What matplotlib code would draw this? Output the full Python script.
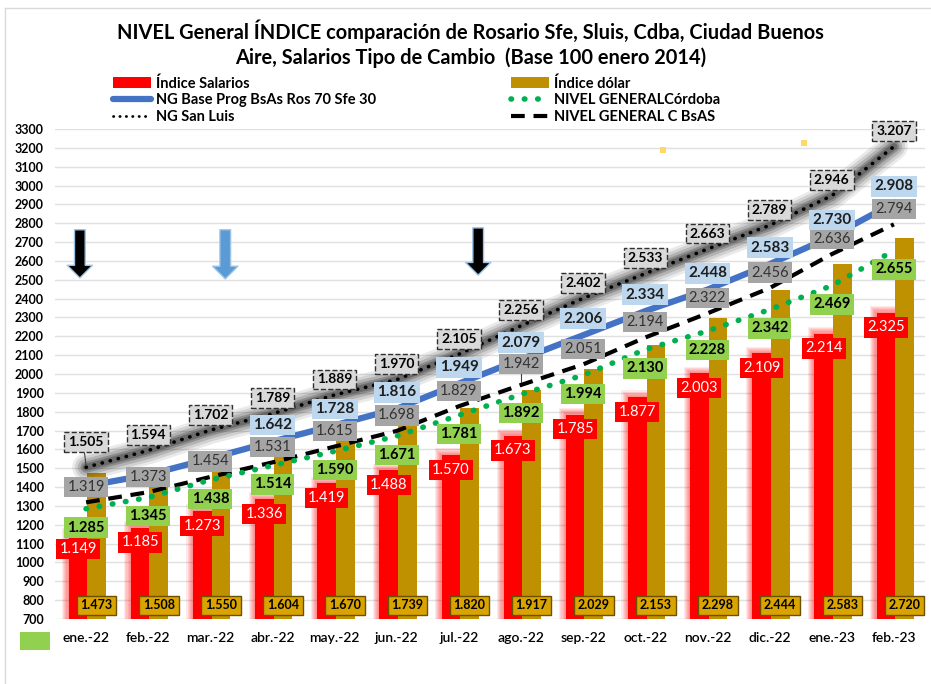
import numpy as np
import matplotlib.pyplot as plt
from matplotlib.patches import Rectangle, FancyArrowPatch
from matplotlib.lines import Line2D

plt.rcParams['font.family'] = ['Lato', 'DejaVu Sans']

# data
meses = ['ene.-22', 'feb.-22', 'mar.-22', 'abr.-22', 'may.-22', 'jun.-22', 'jul.-22',
         'ago.-22', 'sep.-22', 'oct.-22', 'nov.-22', 'dic.-22', 'ene.-23', 'feb.-23']
salarios = [1149, 1185, 1273, 1336, 1419, 1488, 1570, 1673, 1785, 1877, 2003, 2109, 2214, 2325]
dolar = [1473, 1508, 1550, 1604, 1670, 1739, 1820, 1917, 2029, 2153, 2298, 2444, 2583, 2720]
ng_base = [1405, 1465, 1552, 1642, 1728, 1816, 1949, 2079, 2206, 2334, 2448, 2583, 2730, 2908]
san_luis = [1505, 1594, 1702, 1789, 1889, 1970, 2105, 2256, 2402, 2533, 2663, 2789, 2946, 3207]
cordoba = [1285, 1345, 1438, 1514, 1590, 1671, 1781, 1892, 1994, 2130, 2228, 2342, 2469, 2655]
c_bsas = [1319, 1373, 1454, 1531, 1615, 1698, 1829, 1942, 2051, 2194, 2322, 2456, 2636, 2794]
# which labels of the base prog line are shown (first three hidden behind others)
ng_base_shown = [False, False, False] + [True] * 11
# arrows: (category position, top, tip, colour)
flechas = [(-0.1, 2780, 2495, 'black'), (2.24, 2780, 2490, '#5B9BD5'), (6.31, 2790, 2510, 'black')]
# stray yellow marks
marcas_x = [9.29, 11.55]
marcas_y = [3188, 3226]

x = np.arange(len(meses))
fmt = lambda v: f"{v / 1000:.3f}"

fig = plt.figure(figsize=(9.31, 6.84), dpi=100)
ax = fig.add_axes([55 / 931, 65 / 684, 870 / 931, 490 / 684])
ax.set_xlim(-0.5, 13.5)
ax.set_ylim(700, 3300)
for s in ax.spines.values():
    s.set_visible(False)
ax.set_yticks(np.arange(700, 3301, 100))
ax.yaxis.grid(True, color='#E0E0E0', lw=1, zorder=0)
ax.set_axisbelow(True)
ax.tick_params(axis='y', length=0, pad=8, labelsize=9)
ax.tick_params(axis='x', length=0, pad=9, labelsize=10)
ax.set_xticks(x)
ax.set_xticklabels(meses)
for t in ax.get_yticklabels():
    t.set_fontweight('bold')
for t in ax.get_xticklabels():
    t.set_fontweight('semibold')

bw = 0.3
xr = x - bw / 2 + 0.02
xg = x + bw / 2 + 0.02

# glow around the red bars
for k in range(1, 7):
    ax.bar(xr, np.array(salarios) + k * 6, width=bw + k * 0.035, color='#FF0000',
           alpha=0.09, lw=0, zorder=1)
ax.bar(xr, salarios, width=bw, color='#FF0000', lw=0, zorder=2)
ax.bar(xg, dolar, width=bw, color='#BF9000', lw=0, zorder=2)

# San Luis: grey glow + dotted black
for lw, a in [(20, 0.1), (16, 0.14), (12, 0.2), (8, 0.3), (5, 0.4)]:
    ax.plot(x, san_luis, color='#3A3A3A', lw=lw, alpha=a, solid_capstyle='round', zorder=3)
ax.plot(x, san_luis, color='black', lw=2.6, ls=(0, (0.1, 2.2)), dash_capstyle='round', zorder=4)
ax.plot(x, ng_base, color='#4472C4', lw=4.5, zorder=4)
ax.plot(x, c_bsas, color='black', lw=3, ls=(0, (3.3, 2.1)), zorder=4)
ax.plot(x, cordoba, color='#00B050', lw=4, ls=(0, (0.1, 2.3)), dash_capstyle='round', zorder=4)

ax.scatter(marcas_x, marcas_y, marker='s', s=14, color='#FFD966', lw=0, zorder=3)


def etiqueta(xx, yy, s, fc, tc, fw='bold', fs=10, ec='none', ls='-', pad=0.22):
    ax.text(xx, yy, s, ha='center', va='center', color=tc, fontsize=fs, fontweight=fw,
            bbox=dict(boxstyle=f'square,pad={pad}', fc=fc, ec=ec, ls=ls, lw=1), zorder=10)


for i in x:
    etiqueta(xr[i], salarios[i] - 78, fmt(salarios[i]), '#FF0000', 'white', fw='normal', fs=10.5)
    etiqueta(xg[i], 772, fmt(dolar[i]), '#D9A400', 'black', fs=9, ec='#6B5000', pad=0.3)
    etiqueta(i, cordoba[i] - 100, fmt(cordoba[i]), '#92D050', 'black', fs=10.5)
    dy = 112 if i == 7 else 82
    etiqueta(i, c_bsas[i] + dy, fmt(c_bsas[i]), '#A5A5A5', '#333333', fw='normal', fs=10.5)
    if i == 7:
        ax.plot([i, i], [c_bsas[i] + 15, c_bsas[i] + 80], color='#404040', lw=0.8, zorder=5)
    if ng_base_shown[i]:
        etiqueta(i, ng_base[i] + 87, fmt(ng_base[i]), '#BDD7EE', '#1F1F1F', fs=11)
    dy = 135 if i == 0 else 82
    etiqueta(i, san_luis[i] + dy, fmt(san_luis[i]), '#D9D9D9', 'black', fs=10, ec='#303030', ls='--', pad=0.28)
    if i == 0:
        ax.plot([i - 0.03, i], [san_luis[i] + 88, san_luis[i] + 10], color='#404040', lw=0.8, zorder=5)

for fx, top, tip, col in flechas:
    arr = FancyArrowPatch((fx, top), (fx, tip), arrowstyle='simple,head_length=1.3,head_width=2.6,tail_width=1.1',
                          mutation_scale=7, fc=col, ec='#9DC3E6', lw=1, zorder=6)
    ax.add_patch(arr)

# title
fig.text(0.5055, 1 - 31 / 684, 'NIVEL General ÍNDICE comparación de Rosario Sfe, Sluis, Cdba, Ciudad Buenos',
         ha='center', va='center', fontsize=14.4, fontweight='bold')
fig.text(0.5055, 1 - 58 / 684, 'Aire, Salarios Tipo de Cambio  (Base 100 enero 2014)',
         ha='center', va='center', fontsize=14.4, fontweight='bold')

# legend, two columns
h_izq = [Rectangle((0, 0), 1, 1, fc='#FF0000'),
         Line2D([], [], color='#4472C4', lw=4.5, solid_capstyle='round'),
         Line2D([], [], color='black', lw=2, ls=(0, (0.1, 2.2)), dash_capstyle='round')]
l_izq = ['Índice Salarios', 'NG Base Prog BsAs Ros 70 Sfe 30', 'NG San Luis']
h_der = [Rectangle((0, 0), 1, 1, fc='#BF9000'),
         Line2D([], [], color='#00B050', lw=4, ls=(0, (0.1, 2.3)), dash_capstyle='round'),
         Line2D([], [], color='black', lw=3, ls=(0, (3.3, 2.1)))]
l_der = ['Índice dólar', 'NIVEL GENERALCórdoba', 'NIVEL GENERAL C BsAS']
for hs, ls_, x0 in [(h_izq, l_izq, 113 / 931), (h_der, l_der, 511 / 931)]:
    leg = fig.legend(hs, ls_, loc='upper left', bbox_to_anchor=(x0, 1 - 76 / 684), frameon=False,
                     fontsize=10.5, handlelength=2.6, handleheight=0.7, handletextpad=0.35,
                     labelspacing=0.18, borderpad=0, borderaxespad=0)
    for t in leg.get_texts():
        t.set_fontweight('bold')

# frame of the chart area and cut-off legend key
fig.add_artist(Line2D([5 / 931, 5 / 931], [0, 1 - 8 / 684], color='#D9D9D9', lw=1))
fig.add_artist(Line2D([5 / 931, 1], [1 - 8 / 684, 1 - 8 / 684], color='#D9D9D9', lw=1))
fig.add_artist(Rectangle((20 / 931, 1 - 650 / 684), 30 / 931, 18 / 684, fc='#92D050', ec='none'))

fig.savefig('out.png', dpi=100)
